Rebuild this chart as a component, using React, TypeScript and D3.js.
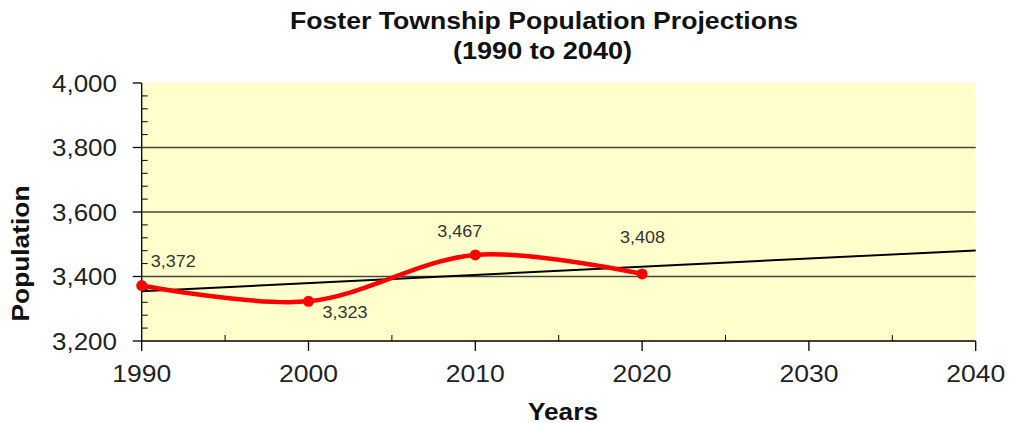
import React from "react";
import * as d3 from "d3";

const years = [1990, 2000, 2010, 2020];
const population = [3372, 3323, 3467, 3408];
const trendYears = [1990, 2040];
const trendValues = [3354, 3481];
const xTicks = [1990, 2000, 2010, 2020, 2030, 2040];
const yTicks = [3200, 3400, 3600, 3800, 4000];
const titleLines = ["Foster Township Population Projections", "(1990 to 2040)"];

const W = 1013;
const H = 423;
const M = { left: 141.7, right: 975.7, top: 83, bottom: 341 };

export default function App() {
  const x = d3.scaleLinear().domain([1990, 2040]).range([M.left, M.right]);
  const y = d3.scaleLinear().domain([3200, 4000]).range([M.bottom, M.top]);
  const fmt = d3.format(",");

  const line = d3
    .line<number>()
    .x((_, i) => x(years[i]))
    .y((d) => y(d))
    .curve(d3.curveCardinal.tension(0));

  const trend = d3
    .line<number>()
    .x((_, i) => x(trendYears[i]))
    .y((d) => y(d));

  const minorY = d3.range(3200, 4001, 40).filter((v) => v % 200 !== 0);
  const minorX = d3.range(1995, 2040, 10);

  const labelPos = [
    { dx: 9, dy: -18.5 },
    { dx: 14, dy: 17 },
    { dx: -38, dy: -18 },
    { dx: -22, dy: -31 },
  ];

  const font = "'Liberation Sans', Arial, sans-serif";

  return (
    <div style={{ position: "absolute", left: 0, top: 0 }}>
      <svg width={W} height={H} style={{ display: "block", fontFamily: font }}>
        <rect x={0} y={0} width={W} height={H} fill="#fff" />
        <rect
          x={M.left}
          y={M.top}
          width={M.right - M.left}
          height={M.bottom - M.top}
          fill="#FFFFCC"
        />
        {yTicks
          .filter((v) => v !== 3200 && v !== 4000)
          .map((v) => (
            <line
              key={"g" + v}
              x1={M.left}
              x2={M.right}
              y1={y(v)}
              y2={y(v)}
              stroke="#444"
              strokeWidth={1.3}
            />
          ))}
        {minorY.map((v) => (
          <line
            key={"my" + v}
            x1={M.left}
            x2={M.left + 6}
            y1={y(v)}
            y2={y(v)}
            stroke="#000"
            strokeWidth={1}
          />
        ))}
        {yTicks.map((v) => (
          <line
            key={"My" + v}
            x1={M.left - 9}
            x2={M.left}
            y1={y(v)}
            y2={y(v)}
            stroke="#000"
            strokeWidth={1.3}
          />
        ))}
        {minorX.map((v) => (
          <line
            key={"mx" + v}
            x1={x(v)}
            x2={x(v)}
            y1={M.bottom}
            y2={M.bottom - 6}
            stroke="#000"
            strokeWidth={1}
          />
        ))}
        {xTicks.map((v) => (
          <line
            key={"Mx" + v}
            x1={x(v)}
            x2={x(v)}
            y1={M.bottom}
            y2={M.bottom + 10}
            stroke="#000"
            strokeWidth={1.3}
          />
        ))}
        <line x1={M.left} x2={M.left} y1={M.top} y2={M.bottom} stroke="#000" strokeWidth={1.3} />
        <line x1={M.left} x2={M.right} y1={M.bottom} y2={M.bottom} stroke="#000" strokeWidth={1.3} />

        <path d={trend(trendValues) || ""} fill="none" stroke="#000" strokeWidth={2} />

        <path
          d={line(population) || ""}
          fill="none"
          stroke="#FF0000"
          strokeWidth={4.5}
          strokeLinecap="round"
        />
        {population.map((v, i) => (
          <circle key={"c" + i} cx={x(years[i])} cy={y(v)} r={5.5} fill="#FF0000" />
        ))}

        {population.map((v, i) => (
          <text
            key={"l" + i}
            x={x(years[i]) + labelPos[i].dx}
            y={y(v) + labelPos[i].dy}
            fontSize={16}
            fill="#333"
            textLength={45}
            lengthAdjust="spacingAndGlyphs"
          >
            {fmt(v)}
          </text>
        ))}

        {yTicks.map((v) => (
          <text
            key={"yt" + v}
            x={117 - 65}
            y={y(v) + 8.5}
            fontSize={23}
            fill="#222"
            textLength={65}
            lengthAdjust="spacingAndGlyphs"
          >
            {fmt(v)}
          </text>
        ))}
        {xTicks.map((v) => (
          <text
            key={"xt" + v}
            x={x(v) - 29.5}
            y={381.5}
            fontSize={23}
            fill="#222"
            textLength={59}
            lengthAdjust="spacingAndGlyphs"
          >
            {v}
          </text>
        ))}

        <text
          x={528}
          y={419.5}
          fontSize={23}
          fontWeight="bold"
          fill="#111"
          textLength={70}
          lengthAdjust="spacingAndGlyphs"
        >
          Years
        </text>
        <text
          transform={`translate(${29},${253.5}) rotate(-90)`}
          fontSize={23}
          fontWeight="bold"
          textAnchor="middle"
          fill="#111"
          textLength={136}
          lengthAdjust="spacingAndGlyphs"
        >
          Population
        </text>

        <text
          x={290}
          y={28.5}
          fontSize={24}
          fontWeight="bold"
          fill="#111"
          textLength={508}
          lengthAdjust="spacingAndGlyphs"
        >
          {titleLines[0]}
        </text>
        <text
          x={453}
          y={58.5}
          fontSize={24}
          fontWeight="bold"
          fill="#111"
          textLength={179}
          lengthAdjust="spacingAndGlyphs"
        >
          {titleLines[1]}
        </text>
      </svg>
    </div>
  );
}
